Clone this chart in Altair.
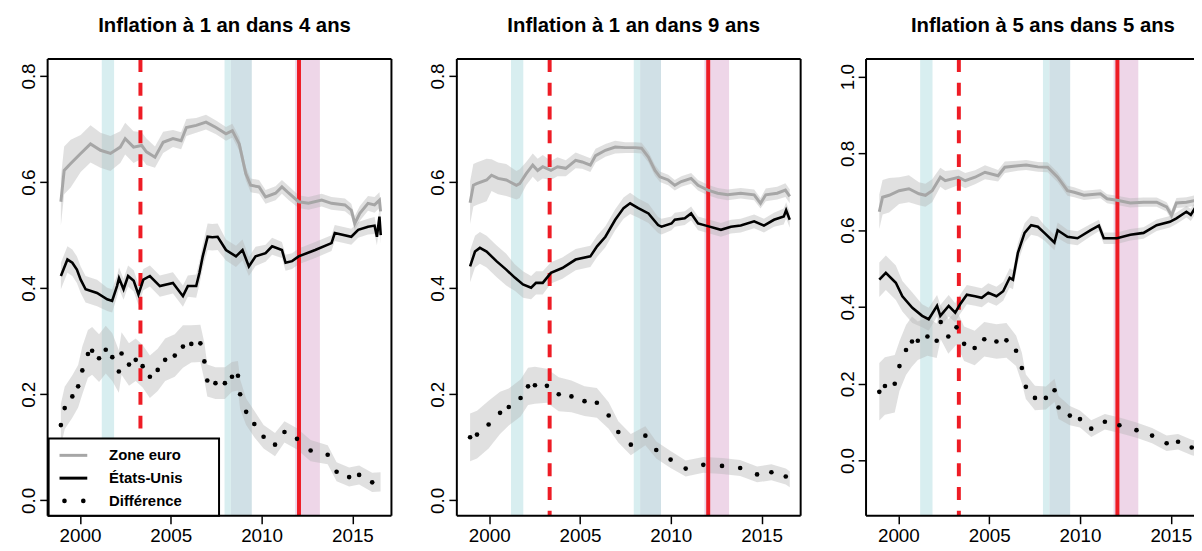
import altair as alt
import pandas as pd

# ---------------- text ----------------
TITLES = ["Inflation à 1 an dans 4 ans", "Inflation à 1 an dans 9 ans", "Inflation à 5 ans dans 5 ans"]
LEGEND_LABELS = ["Zone euro", "États-Unis", "Différence"]
X_TICKS = [2000, 2005, 2010, 2015]
Y_TICKS_A = [0.0, 0.2, 0.4, 0.6, 0.8]
Y_TICKS_B = [0.0, 0.2, 0.4, 0.6, 0.8, 1.0]
X_DOMAIN = [1998.22, 2017.15]
Y_DOMAIN_A = [-0.029, 0.832]
Y_DOMAIN_B = [-0.144, 1.046]

# ---------------- events (same in every panel) ----------------
SHADE_START = [2001.20, 2007.96, 2008.31, 2011.85]
SHADE_END = [2001.88, 2008.31, 2009.46, 2013.21]
SHADE_COLOR = ["#d8eef0", "#d8eef0", "#d0e0e6", "#eed6e8"]
DASHED_DATE = [2003.33]
SOLID_DATE = [2012.06]

# ---------------- panel 1 : 1 an dans 4 ans ----------------
p1_ez_x = [1998.95, 1999.13, 1999.49, 2000.04, 2000.58, 2001.13, 2001.68, 2002.22, 2002.49, 2002.95,
           2003.40, 2003.66, 2004.13, 2004.58, 2005.12, 2005.57, 2005.86, 2006.40, 2006.94, 2007.49,
           2008.04, 2008.39, 2008.77, 2009.13, 2009.40, 2009.86, 2010.22, 2010.77, 2011.12, 2011.50,
           2012.04, 2012.58, 2013.31, 2013.85, 2014.59, 2014.94, 2015.13, 2015.41, 2015.86, 2016.22,
           2016.49, 2016.55]
p1_ez_y = [0.563, 0.622, 0.635, 0.654, 0.672, 0.660, 0.654, 0.666, 0.682, 0.666,
           0.669, 0.657, 0.647, 0.675, 0.682, 0.678, 0.703, 0.707, 0.713, 0.703,
           0.691, 0.697, 0.672, 0.616, 0.594, 0.591, 0.572, 0.579, 0.591, 0.579,
           0.563, 0.560, 0.566, 0.560, 0.557, 0.547, 0.522, 0.541, 0.560, 0.557,
           0.566, 0.545]
p1_us_x = [1998.95, 1999.31, 1999.58, 1999.83, 2000.04, 2000.31, 2000.94, 2001.50, 2001.77, 2002.04,
           2002.15, 2002.40, 2002.65, 2002.96, 2003.22, 2003.49, 2003.85, 2004.40, 2005.12, 2005.67,
           2005.94, 2006.40, 2006.58, 2006.76, 2007.03, 2007.29, 2007.58, 2008.04, 2008.59, 2008.95,
           2009.30, 2009.67, 2010.22, 2010.58, 2011.12, 2011.32, 2011.68, 2012.04, 2012.95, 2013.85,
           2014.03, 2014.94, 2015.32, 2015.86, 2016.22, 2016.35, 2016.49, 2016.56]
p1_us_y = [0.423, 0.454, 0.448, 0.435, 0.416, 0.398, 0.391, 0.379, 0.376, 0.404,
           0.419, 0.398, 0.423, 0.414, 0.388, 0.416, 0.423, 0.404, 0.410, 0.385,
           0.404, 0.404, 0.429, 0.460, 0.497, 0.496, 0.497, 0.472, 0.460, 0.472,
           0.441, 0.460, 0.466, 0.479, 0.472, 0.448, 0.451, 0.460, 0.472, 0.485,
           0.504, 0.497, 0.510, 0.516, 0.518, 0.497, 0.535, 0.500]
p1_dif_x = [1998.95, 1999.16, 1999.58, 1999.90, 2000.13, 2000.44, 2000.67, 2001.05, 2001.42, 2001.78,
            2002.14, 2002.29, 2002.70, 2003.07, 2003.45, 2003.85, 2004.28, 2004.69, 2005.22, 2005.67,
            2006.13, 2006.63, 2006.85, 2007.01, 2007.46, 2007.98, 2008.37, 2008.70, 2008.82, 2009.15,
            2009.60, 2010.11, 2010.74, 2011.26, 2011.95, 2012.70, 2013.64, 2014.13, 2014.82, 2015.37,
            2016.09]
p1_dif_y = [0.142, 0.174, 0.196, 0.215, 0.245, 0.276, 0.282, 0.268, 0.284, 0.270,
            0.243, 0.277, 0.256, 0.265, 0.253, 0.233, 0.246, 0.265, 0.273, 0.290,
            0.295, 0.296, 0.262, 0.226, 0.221, 0.221, 0.233, 0.235, 0.200, 0.167,
            0.144, 0.120, 0.105, 0.129, 0.116, 0.094, 0.086, 0.054, 0.044, 0.048,
            0.034]
p1_dif_tail = [2016.55, 0.035]
# half-widths of the confidence bands, one per year 1999..2016
p1_ez_hw = [0.045, 0.035, 0.033, 0.030, 0.025, 0.020, 0.016, 0.014, 0.013, 0.013, 0.013, 0.013, 0.013, 0.012, 0.012, 0.012, 0.014, 0.015]
p1_us_hw = [0.025, 0.025, 0.022, 0.020, 0.020, 0.020, 0.020, 0.022, 0.025, 0.020, 0.018, 0.016, 0.015, 0.015, 0.015, 0.015, 0.015, 0.016]
p1_dif_hw = [0.040, 0.045, 0.045, 0.040, 0.040, 0.040, 0.040, 0.035, 0.030, 0.028, 0.025, 0.022, 0.020, 0.020, 0.018, 0.018, 0.018, 0.018]

# ---------------- panel 2 : 1 an dans 9 ans ----------------
p2_ez_x = [1998.95, 1999.13, 1999.31, 1999.86, 2000.13, 2000.49, 2000.94, 2001.50, 2001.68, 2002.04,
           2002.40, 2002.67, 2002.95, 2003.40, 2003.76, 2004.22, 2004.76, 2005.12, 2005.57, 2005.86,
           2006.40, 2006.94, 2007.49, 2008.04, 2008.39, 2008.77, 2009.13, 2009.40, 2009.86, 2010.22,
           2010.58, 2011.12, 2011.50, 2012.04, 2012.58, 2013.13, 2013.85, 2014.59, 2014.94, 2015.23,
           2015.86, 2016.31, 2016.55]
p2_ez_y = [0.561, 0.594, 0.597, 0.604, 0.613, 0.607, 0.604, 0.594, 0.597, 0.616,
           0.632, 0.622, 0.629, 0.622, 0.629, 0.626, 0.641, 0.638, 0.632, 0.650,
           0.660, 0.666, 0.665, 0.665, 0.664, 0.647, 0.622, 0.610, 0.604, 0.594,
           0.601, 0.607, 0.594, 0.585, 0.579, 0.576, 0.579, 0.576, 0.560, 0.576,
           0.579, 0.585, 0.573]
p2_us_x = [1998.95, 1999.22, 1999.49, 1999.86, 2000.40, 2000.94, 2001.41, 2001.86, 2002.31, 2002.58,
           2002.95, 2003.40, 2004.03, 2004.76, 2005.57, 2005.94, 2006.40, 2006.94, 2007.40, 2007.76,
           2008.21, 2008.77, 2009.30, 2009.49, 2010.04, 2010.22, 2010.77, 2011.12, 2011.50, 2012.04,
           2012.76, 2013.31, 2013.85, 2014.59, 2015.13, 2015.68, 2016.22, 2016.35, 2016.55]
p2_us_y = [0.441, 0.469, 0.476, 0.469, 0.451, 0.435, 0.420, 0.407, 0.401, 0.410,
           0.410, 0.429, 0.438, 0.454, 0.460, 0.479, 0.497, 0.529, 0.551, 0.560,
           0.551, 0.541, 0.519, 0.516, 0.522, 0.529, 0.532, 0.541, 0.522, 0.517,
           0.510, 0.516, 0.518, 0.526, 0.518, 0.529, 0.535, 0.547, 0.529]
p2_dif_x = [1998.95, 1999.33, 1999.97, 2000.60, 2001.08, 2001.73, 2002.14, 2002.52, 2003.18, 2003.83,
            2004.53, 2005.25, 2005.93, 2006.58, 2007.11, 2007.80, 2008.60, 2009.20, 2009.99, 2010.82,
            2011.79, 2012.82, 2013.82, 2014.75, 2015.54, 2016.33]
p2_dif_y = [0.119, 0.124, 0.143, 0.165, 0.176, 0.193, 0.215, 0.217, 0.216, 0.200,
            0.196, 0.187, 0.184, 0.160, 0.129, 0.105, 0.122, 0.095, 0.077, 0.060,
            0.067, 0.065, 0.061, 0.049, 0.053, 0.045]
p2_dif_tail = [2016.55, 0.040]
p2_ez_hw = [0.040, 0.030, 0.027, 0.022, 0.018, 0.015, 0.013, 0.012, 0.010, 0.010, 0.010, 0.010, 0.010, 0.010, 0.010, 0.010, 0.012, 0.013]
p2_us_hw = [0.030, 0.030, 0.025, 0.022, 0.020, 0.020, 0.020, 0.020, 0.020, 0.018, 0.015, 0.013, 0.013, 0.013, 0.013, 0.013, 0.013, 0.015]
p2_dif_hw = [0.045, 0.040, 0.035, 0.035, 0.032, 0.030, 0.028, 0.025, 0.020, 0.018, 0.016, 0.015, 0.015, 0.015, 0.015, 0.015, 0.015, 0.015]

# ---------------- panel 3 : 5 ans dans 5 ans ----------------
p3_ez_x = [1998.95, 1999.13, 1999.49, 2000.04, 2000.58, 2001.13, 2001.49, 2001.86, 2002.31, 2002.58,
           2003.31, 2003.68, 2004.22, 2004.77, 2005.49, 2005.86, 2006.58, 2007.04, 2007.68, 2008.22,
           2008.77, 2009.31, 2009.68, 2010.22, 2011.13, 2011.49, 2012.04, 2012.77, 2013.50, 2014.22,
           2014.77, 2015.04, 2015.31, 2015.86, 2016.40, 2016.50]
p3_ez_y = [0.648, 0.686, 0.691, 0.703, 0.708, 0.695, 0.691, 0.703, 0.738, 0.729,
           0.738, 0.729, 0.738, 0.751, 0.742, 0.764, 0.768, 0.770, 0.765, 0.764,
           0.738, 0.703, 0.699, 0.691, 0.695, 0.682, 0.678, 0.671, 0.673, 0.673,
           0.661, 0.639, 0.671, 0.673, 0.678, 0.668]
p3_us_x = [1998.95, 1999.31, 1999.86, 2000.22, 2000.77, 2001.31, 2001.67, 2002.13, 2002.31, 2002.77,
           2003.13, 2003.40, 2003.77, 2004.22, 2004.59, 2004.95, 2005.40, 2005.77, 2006.13, 2006.31,
           2006.58, 2006.95, 2007.31, 2007.68, 2008.04, 2008.59, 2008.77, 2009.31, 2009.86, 2010.59,
           2011.04, 2011.31, 2012.04, 2012.77, 2013.50, 2014.22, 2014.95, 2015.31, 2015.86, 2016.10,
           2016.30, 2016.50]
p3_us_y = [0.471, 0.489, 0.463, 0.428, 0.398, 0.377, 0.368, 0.403, 0.377, 0.403,
           0.385, 0.407, 0.432, 0.428, 0.424, 0.437, 0.428, 0.441, 0.476, 0.471,
           0.541, 0.593, 0.613, 0.609, 0.593, 0.568, 0.600, 0.583, 0.579, 0.600,
           0.612, 0.579, 0.579, 0.588, 0.593, 0.613, 0.622, 0.631, 0.648, 0.640,
           0.655, 0.645]
p3_dif_x = [1998.95, 1999.26, 1999.80, 2000.06, 2000.42, 2000.75, 2001.07, 2001.60, 2002.11, 2002.33,
            2002.75, 2003.20, 2003.62, 2004.20, 2004.73, 2005.40, 2005.95, 2006.48, 2006.80, 2007.02,
            2007.52, 2008.12, 2008.60, 2008.82, 2009.44, 2010.00, 2010.62, 2011.37, 2012.17, 2013.11,
            2013.97, 2014.77, 2015.40, 2016.15]
p3_dif_y = [0.179, 0.194, 0.200, 0.246, 0.288, 0.310, 0.312, 0.323, 0.312, 0.361,
            0.323, 0.347, 0.304, 0.293, 0.316, 0.310, 0.313, 0.286, 0.241, 0.192,
            0.163, 0.163, 0.183, 0.138, 0.117, 0.108, 0.083, 0.101, 0.092, 0.079,
            0.065, 0.045, 0.049, 0.034]
p3_dif_tail = [2016.50, 0.030]
p3_ez_hw = [0.045, 0.035, 0.030, 0.025, 0.020, 0.018, 0.015, 0.013, 0.013, 0.013, 0.013, 0.012, 0.012, 0.012, 0.012, 0.012, 0.013, 0.014]
p3_us_hw = [0.045, 0.040, 0.030, 0.028, 0.025, 0.025, 0.025, 0.025, 0.025, 0.020, 0.018, 0.016, 0.015, 0.015, 0.015, 0.015, 0.015, 0.016]
p3_dif_hw = [0.075, 0.065, 0.050, 0.045, 0.045, 0.045, 0.045, 0.040, 0.032, 0.030, 0.025, 0.022, 0.020, 0.020, 0.020, 0.020, 0.020, 0.020]

# ---------------- styling ----------------
FONT = "Liberation Sans"
RED = "#ee1c25"
EZ_COLOR = "#a6a6a6"
BAND_COLOR = "#b4b4b4"
W = 347
H = 461


def band_frame(xs, ys, hw, tail=None):
    xs = list(xs)
    ys = list(ys)
    if tail is not None:
        xs.append(tail[0])
        ys.append(tail[1])
    h = [hw[min(max(int(x) - 1999, 0), len(hw) - 1)] for x in xs]
    return pd.DataFrame({"x": xs,
                         "lo": [y - d for y, d in zip(ys, h)],
                         "hi": [y + d for y, d in zip(ys, h)]})


def make_panel(title, ydom, yticks, ez, us, dif, tail, hws, legend=False):
    xscale = alt.Scale(domain=X_DOMAIN, nice=False, zero=False)
    yscale = alt.Scale(domain=ydom, nice=False, zero=False)
    xaxis = alt.Axis(values=X_TICKS, format="d", title=None, labelPadding=17.5, tickSize=8,
                     labelBaseline="alphabetic",
                     labelFontSize=19, labelFont=FONT, labelColor="black", tickColor="black",
                     tickWidth=1.5, domain=False, grid=False, labelFlush=False, labelOverlap=False)
    yaxis = alt.Axis(values=yticks, format=".1f", title=None, labelAngle=270, labelAlign="center",
                     labelBaseline="alphabetic", labelPadding=5, tickSize=8, labelFontSize=19,
                     labelFont=FONT, labelColor="black", tickColor="black", tickWidth=1.5,
                     domain=False, grid=False, labelFlush=False, labelOverlap=False,
                     minExtent=34, maxExtent=34)

    def X(f):
        return alt.X(f"{f}:Q", scale=xscale, axis=xaxis)

    def Y(f):
        return alt.Y(f"{f}:Q", scale=yscale, axis=yaxis)

    shade_df = pd.DataFrame({"x0": SHADE_START, "x1": SHADE_END, "c": SHADE_COLOR})
    layers = [
        alt.Chart(shade_df).mark_rect().encode(
            x=X("x0"), x2="x1:Q", y=alt.value(0), y2=alt.value(H),
            color=alt.Color("c:N", scale=None)),
    ]
    for (xs, ys), hw, tl in [(ez, hws[0], None), (us, hws[1], None), (dif, hws[2], tail)]:
        layers.append(alt.Chart(band_frame(xs, ys, hw, tl)).mark_area(
            color=BAND_COLOR, opacity=0.42, clip=True).encode(x=X("x"), y=Y("lo"), y2="hi:Q"))
    layers.append(alt.Chart(pd.DataFrame({"x": DASHED_DATE})).mark_rule(
        color=RED, strokeWidth=4, strokeDash=[13, 11]).encode(x=X("x")))
    layers.append(alt.Chart(pd.DataFrame({"x": SOLID_DATE})).mark_rule(
        color=RED, strokeWidth=4).encode(x=X("x")))
    layers.append(alt.Chart(pd.DataFrame({"x": ez[0], "y": ez[1]})).mark_line(
        color=EZ_COLOR, strokeWidth=3, clip=True).encode(x=X("x"), y=Y("y")))
    layers.append(alt.Chart(pd.DataFrame({"x": us[0], "y": us[1]})).mark_line(
        color="black", strokeWidth=2.6, clip=True).encode(x=X("x"), y=Y("y")))
    layers.append(alt.Chart(pd.DataFrame({"x": dif[0], "y": dif[1]})).mark_circle(
        color="black", size=22, opacity=1, clip=True).encode(x=X("x"), y=Y("y")))

    # frame (box)
    frame = alt.Chart(pd.DataFrame({"k": [0]}))
    layers.append(frame.mark_rule(color="black", strokeWidth=2).encode(
        x=alt.value(0), x2=alt.value(W), y=alt.value(0)))
    layers.append(frame.mark_rule(color="black", strokeWidth=2).encode(
        x=alt.value(0), x2=alt.value(W), y=alt.value(H)))
    layers.append(frame.mark_rule(color="black", strokeWidth=2).encode(
        x=alt.value(0), y=alt.value(0), y2=alt.value(H)))
    layers.append(frame.mark_rule(color="black", strokeWidth=2).encode(
        x=alt.value(W), y=alt.value(0), y2=alt.value(H)))

    if legend:
        layers.append(frame.mark_rect(fill="white", stroke="black", strokeWidth=2).encode(
            x=alt.value(1), x2=alt.value(173), y=alt.value(383), y2=alt.value(H)))
        layers.append(frame.mark_rule(color=EZ_COLOR, strokeWidth=3).encode(
            x=alt.value(12), x2=alt.value(40), y=alt.value(400)))
        layers.append(frame.mark_rule(color="black", strokeWidth=3).encode(
            x=alt.value(12), x2=alt.value(40), y=alt.value(423)))
        layers.append(frame.mark_circle(color="black", size=22, opacity=1).encode(
            x=alt.value(17), y=alt.value(446)))
        layers.append(frame.mark_circle(color="black", size=22, opacity=1).encode(
            x=alt.value(36), y=alt.value(446)))
        for lab, yy in zip(LEGEND_LABELS, [400, 423, 446]):
            layers.append(frame.mark_text(align="left", baseline="middle", font=FONT,
                                          fontSize=15, fontWeight="bold", color="black").encode(
                x=alt.value(62), y=alt.value(yy), text=alt.value(lab)))

    return alt.layer(*layers).properties(
        width=W, height=H,
        title=alt.TitleParams(text=title, fontSize=20.5, font=FONT, fontWeight="bold",
                              color="black", anchor="middle", frame="group", offset=20.5, dx=5))


p1 = make_panel(TITLES[0], Y_DOMAIN_A, Y_TICKS_A,
                (p1_ez_x, p1_ez_y), (p1_us_x, p1_us_y), (p1_dif_x, p1_dif_y), p1_dif_tail,
                (p1_ez_hw, p1_us_hw, p1_dif_hw), legend=True)
p2 = make_panel(TITLES[1], Y_DOMAIN_A, Y_TICKS_A,
                (p2_ez_x, p2_ez_y), (p2_us_x, p2_us_y), (p2_dif_x, p2_dif_y), p2_dif_tail,
                (p2_ez_hw, p2_us_hw, p2_dif_hw))
p3 = make_panel(TITLES[2], Y_DOMAIN_B, Y_TICKS_B,
                (p3_ez_x, p3_ez_y), (p3_us_x, p3_us_y), (p3_dif_x, p3_dif_y), p3_dif_tail,
                (p3_ez_hw, p3_us_hw, p3_dif_hw))

chart = alt.hconcat(p1, p2, p3, spacing=29).properties(
    padding={"left": 5, "top": 5, "right": -18, "bottom": -2}
).configure_view(stroke="transparent")

chart.save("out.html", embed_options={"renderer": "svg", "actions": False})
